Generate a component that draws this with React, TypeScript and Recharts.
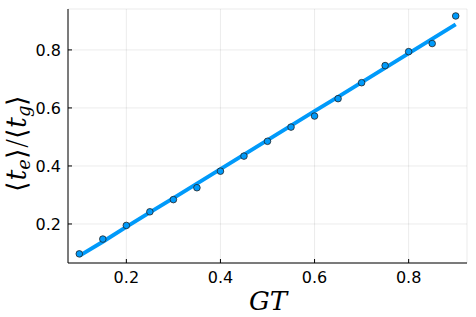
import { ComposedChart, Line, Scatter, XAxis, YAxis, CartesianGrid } from 'recharts'

const gt = [0.1, 0.15, 0.2, 0.25, 0.3, 0.35, 0.4, 0.45, 0.5, 0.55, 0.6, 0.65, 0.7, 0.75, 0.8, 0.85, 0.9]
const measured = [0.097, 0.148, 0.195, 0.242, 0.284, 0.325, 0.382, 0.434, 0.485, 0.534, 0.572, 0.632, 0.687, 0.746, 0.794, 0.822, 0.917]
const fitted = [0.09, 0.139, 0.19, 0.24, 0.289, 0.339, 0.389, 0.439, 0.489, 0.539, 0.589, 0.638, 0.688, 0.738, 0.788, 0.838, 0.888]
const xTicks = [0.2, 0.4, 0.6, 0.8]
const yTicks = [0.2, 0.4, 0.6, 0.8]

const data = gt.map((x, i) => ({ x, measured: measured[i], fitted: fitted[i] }))

const blue = '#009AFA'
const tickStyle = { fill: '#000', fontSize: 16, fontFamily: 'DejaVu Sans' }

export default function App() {
  return (
    <div style={{ position: 'absolute', left: 0, top: 0, width: 476, height: 317, background: '#fff' }}>
      <ComposedChart width={476} height={317} data={data} margin={{ top: 9, right: 9, left: 0, bottom: 0 }}>
        <CartesianGrid stroke="#000" strokeOpacity={0.08} strokeWidth={1} />
        <XAxis
          dataKey="x"
          type="number"
          domain={[0.076, 0.924]}
          ticks={xTicks}
          tickFormatter={(v: number) => v.toFixed(1)}
          height={54}
          tick={tickStyle}
          tickSize={-4}
          tickMargin={13}
          axisLine={{ stroke: '#000', strokeWidth: 1 }}
          tickLine={{ stroke: '#000' }}
        />
        <YAxis
          type="number"
          domain={[0.0655, 0.941]}
          ticks={yTicks}
          tickFormatter={(v: number) => v.toFixed(1)}
          width={68}
          tick={tickStyle}
          tickSize={-4}
          tickMargin={11}
          axisLine={{ stroke: '#000', strokeWidth: 1 }}
          tickLine={{ stroke: '#000' }}
        />
        <Line
          dataKey="fitted"
          type="linear"
          stroke={blue}
          strokeWidth={4}
          dot={false}
          activeDot={false}
          isAnimationActive={false}
        />
        <Scatter
          dataKey="measured"
          fill={blue}
          shape={(p: any) => <circle cx={p.cx} cy={p.cy} r={3.3} fill={blue} stroke="#222" strokeWidth={0.8} />}
          isAnimationActive={false}
        />
      </ComposedChart>
      <svg width={476} height={317} style={{ position: 'absolute', left: 0, top: 0, pointerEvents: 'none' }}>
        <text x={268} y={310} textAnchor="middle" fontFamily="DejaVu Serif" fontStyle="italic" fontSize={26} fill="#000">
          GT
        </text>
        <text
          transform="translate(26,143) rotate(-90)"
          textAnchor="middle"
          fontFamily="DejaVu Serif"
          fontSize={27}
          fill="#000"
        >
          <tspan fontFamily="DejaVu Sans" fontWeight={200}>⟨</tspan>
          <tspan fontStyle="italic">t</tspan>
          <tspan fontStyle="italic" fontSize={18} dy={4}>e</tspan>
          <tspan dy={-4} fontFamily="DejaVu Sans" fontWeight={200}>⟩</tspan>
          <tspan fontFamily="DejaVu Sans" fontWeight={200}>/</tspan>
          <tspan fontFamily="DejaVu Sans" fontWeight={200}>⟨</tspan>
          <tspan fontStyle="italic">t</tspan>
          <tspan fontStyle="italic" fontSize={18} dy={4}>g</tspan>
          <tspan dy={-4} fontFamily="DejaVu Sans" fontWeight={200}>⟩</tspan>
        </text>
      </svg>
    </div>
  )
}
